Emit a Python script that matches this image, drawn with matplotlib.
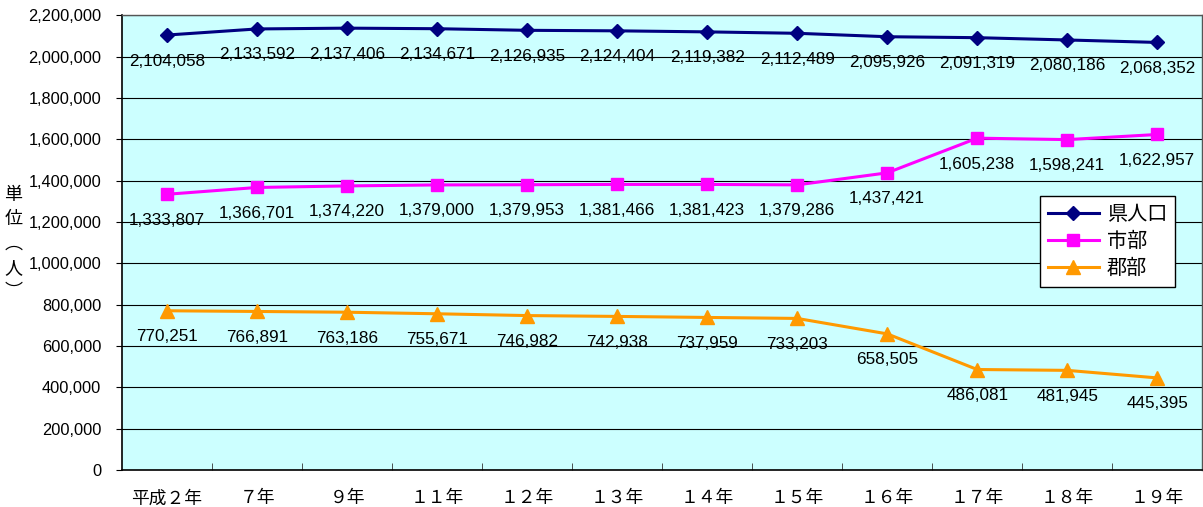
import matplotlib.pyplot as plt

plt.rcParams['font.family'] = ['Liberation Sans', 'Noto Sans CJK JP', 'DejaVu Sans']

# ==== data ====
years = ['平成２年', '７年', '９年', '１１年', '１２年', '１３年',
         '１４年', '１５年', '１６年', '１７年', '１８年', '１９年']
total = [2104058, 2133592, 2137406, 2134671, 2126935, 2124404,
         2119382, 2112489, 2095926, 2091319, 2080186, 2068352]
city = [1333807, 1366701, 1374220, 1379000, 1379953, 1381466,
        1381423, 1379286, 1437421, 1605238, 1598241, 1622957]
county = [770251, 766891, 763186, 755671, 746982, 742938,
          737959, 733203, 658505, 486081, 481945, 445395]

# ==== plot ====
fig = plt.figure(figsize=(12.03, 5.07), dpi=100)
ax = fig.add_axes([0.1014, 0.073, 0.898, 0.897])
ax.set_facecolor('#ccffff')

x = list(range(len(years)))
series = [
    (total, '県人口', '#000080', 'D', 7.5),
    (city, '市部', '#ff00ff', 's', 8.5),
    (county, '郡部', '#ff9900', '^', 9.5),
]
for vals, name, col, mk, ms in series:
    ax.plot(x, vals, color=col, lw=2.2, marker=mk, ms=ms, label=name, zorder=3)
    for xi, v in zip(x, vals):
        ax.annotate(f'{v:,}', (xi, v), xytext=(0, -26), textcoords='offset pixels',
                    ha='center', va='center', fontsize=12.3, zorder=4)

ax.set_xlim(-0.5, len(years) - 0.5)
ax.set_ylim(0, 2200000)
ax.set_yticks(range(0, 2200001, 200000))
ax.set_yticklabels([f'{v:,}' for v in range(0, 2200001, 200000)], fontsize=11.8)
ax.grid(axis='y', color='black', lw=0.8)
ax.set_axisbelow(True)

# category labels centered, ticks between categories
ax.set_xticks(x)
ax.set_xticklabels(years, fontsize=12.8, family=['Noto Sans CJK JP'])
ax.tick_params(axis='x', length=0, pad=14)
ax.set_xticks([i + 0.5 for i in x[:-1]], minor=True)
ax.tick_params(axis='x', which='minor', direction='in', length=5, color='#333333')
ax.tick_params(axis='y', length=4, direction='out', pad=11)

for s in ['left', 'bottom']:
    ax.spines[s].set_color('black')
    ax.spines[s].set_linewidth(1.2)
for s in ['top', 'right']:
    ax.spines[s].set_color('#555555')
    ax.spines[s].set_linewidth(1.0)

fig.text(0.011, 0.52, '単\n位\n︵\n人\n︶', ha='center', va='center', fontsize=13,
         family=['Noto Sans CJK JP'], linespacing=1.45)

leg = ax.legend(loc='upper left', bbox_to_anchor=(0.850, 0.602),
                prop={'family': ['Noto Sans CJK JP'], 'size': 14.5},
                frameon=True, fancybox=False, framealpha=1, edgecolor='black',
                handlelength=2.5, borderpad=0.4, labelspacing=0.3, handletextpad=0.4,
                borderaxespad=0)
leg.get_frame().set_linewidth(1.0)

fig.savefig('out.png', dpi=100)
